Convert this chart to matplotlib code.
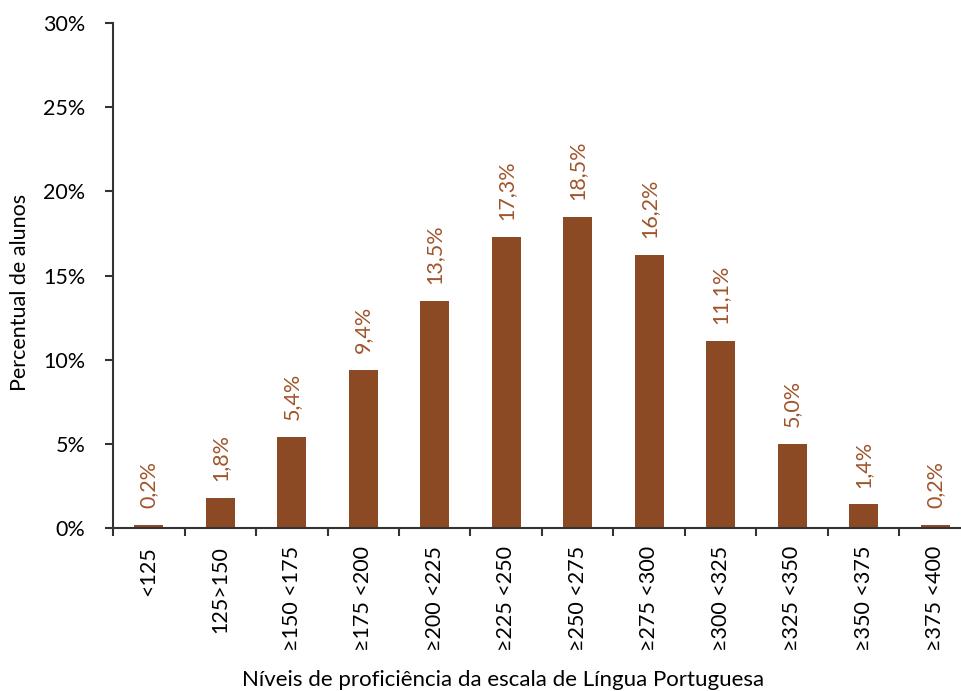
import matplotlib
matplotlib.use("Agg")
import matplotlib.pyplot as plt
from matplotlib.ticker import PercentFormatter

categories = ["<125", "125>150", "≥150 <175", "≥175 <200", "≥200 <225", "≥225 <250",
              "≥250 <275", "≥275 <300", "≥300 <325", "≥325 <350", "≥350 <375", "≥375 <400"]
percent = [0.2, 1.8, 5.4, 9.4, 13.5, 17.3, 18.5, 16.2, 11.1, 5.0, 1.4, 0.2]

bar_color = "#8B4A24"
label_color = "#A0552B"

plt.rcParams['font.family'] = ['Lato', 'DejaVu Sans']
fs = 15.5

fig = plt.figure(figsize=(9.62, 6.91), dpi=100)
ax = fig.add_axes([113 / 962, 163 / 691, 858 / 962, 505 / 691])

x = range(len(categories))
ax.bar(x, percent, width=0.4, color=bar_color)

for xi, v in zip(x, percent):
    ax.text(xi, v + 1.0, f"{v:.1f}%".replace(".", ","), rotation=90,
            ha="center", va="bottom", color=label_color, fontsize=fs)

ax.set_xlim(-0.5, len(categories) - 0.5)
ax.set_ylim(0, 30)
ax.set_yticks(range(0, 31, 5))
ax.yaxis.set_major_formatter(PercentFormatter(decimals=0))
ax.set_xticks(x)
ax.set_xticklabels(categories, rotation=90, fontsize=fs)
ax.set_xticks([i - 0.5 for i in range(len(categories) + 1)], minor=True)
ax.tick_params(axis="x", which="major", length=0, pad=13)
ax.tick_params(axis="x", which="minor", length=6, width=1.5, color="#333333")
ax.tick_params(axis="y", length=6, width=1.5, color="#333333", labelsize=fs, pad=14)

for s in ["top", "right"]:
    ax.spines[s].set_visible(False)
for s in ["left", "bottom"]:
    ax.spines[s].set_linewidth(1.5)
    ax.spines[s].set_color("#333333")

fig.text(20 / 962, 399 / 691, "Percentual de alunos", rotation=90,
         ha="center", va="center", fontsize=fs)
fig.text(503 / 962, 11 / 691, "Níveis de proficiência da escala de Língua Portuguesa",
         ha="center", va="center", fontsize=fs + 0.5)

fig.savefig("out.png", dpi=100)
